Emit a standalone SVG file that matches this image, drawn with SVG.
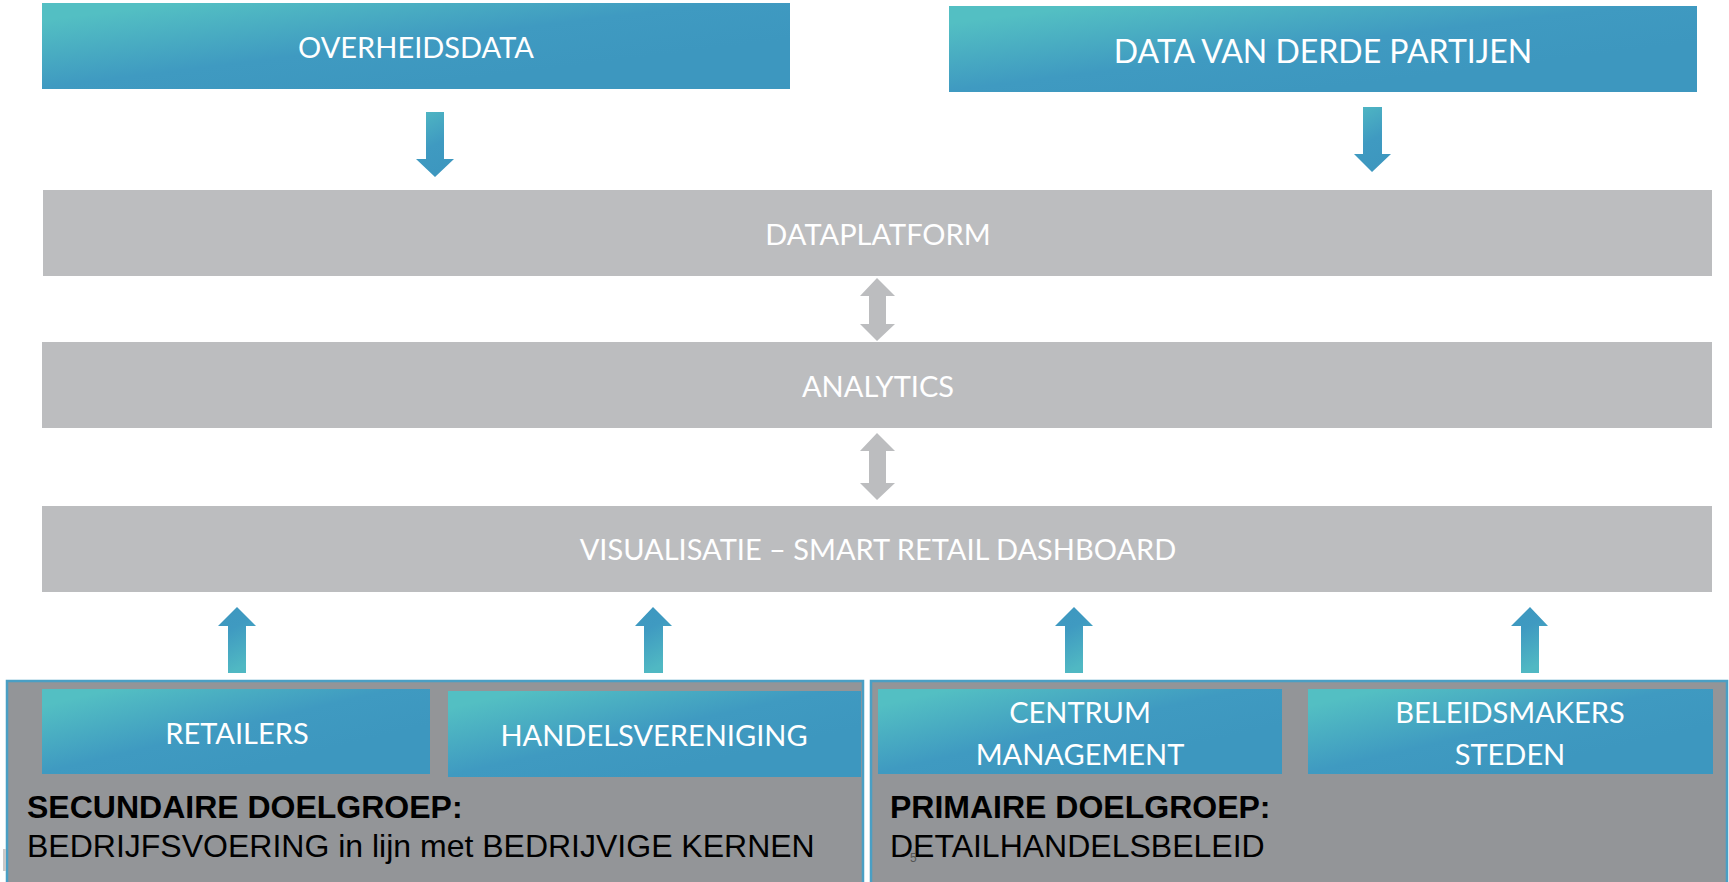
<svg xmlns="http://www.w3.org/2000/svg" width="1729" height="882" viewBox="0 0 1729 882">
  <defs>
    <linearGradient id="boxGrad" x1="0" y1="0.2" x2="0.65" y2="0.8">
      <stop offset="0" stop-color="#53BFC3"/>
      <stop offset="0.6" stop-color="#3F9AC1"/>
      <stop offset="1" stop-color="#3D97BF"/>
    </linearGradient>
    <linearGradient id="downGrad" x1="0" y1="0" x2="0.3" y2="1">
      <stop offset="0" stop-color="#50B8C3"/>
      <stop offset="0.6" stop-color="#3F9AC1"/>
      <stop offset="1" stop-color="#3D97BF"/>
    </linearGradient>
    <linearGradient id="upGrad" x1="0.3" y1="1" x2="0" y2="0">
      <stop offset="0" stop-color="#50B8C3"/>
      <stop offset="0.6" stop-color="#3F9AC1"/>
      <stop offset="1" stop-color="#3D97BF"/>
    </linearGradient>
  </defs>
  <style>
    .blue { fill: url(#boxGrad); }
    .bar { fill: #BCBDBF; }
    .group { fill: #939598; stroke: #4A9FC4; stroke-width: 2.5; }
    .lbl { font-family: Lato, "Open Sans", sans-serif; font-size: 29px; fill: #FFFFFF; text-anchor: middle; }
    .big { font-size: 32px; }
    .head { font-family: "Liberation Sans", Arial, sans-serif; font-size: 32px; font-weight: bold; fill: #000000; }
    .sub { font-family: "Liberation Sans", Arial, sans-serif; font-size: 32px; fill: #000000; }
    .down { fill: url(#downGrad); }
    .up { fill: url(#upGrad); }
    .dbl { fill: #BCBDBF; }
  </style>
  <rect width="1729" height="882" fill="#FFFFFF"/>

  <g id="overheidsdata">
    <rect class="blue" x="42" y="3" width="748" height="86"/>
    <text class="lbl" x="416" y="58" font-size="30">OVERHEIDSDATA</text>
  </g>
  <g id="derde-partijen">
    <rect class="blue" x="949" y="6" width="748" height="86"/>
    <text class="lbl big" x="1323" y="63">DATA VAN DERDE PARTIJEN</text>
  </g>
  <g id="dataplatform">
    <rect class="bar" x="43" y="190" width="1669" height="86"/>
    <text class="lbl" x="878" y="245">DATAPLATFORM</text>
  </g>
  <g id="analytics">
    <rect class="bar" x="42" y="342" width="1670" height="86"/>
    <text class="lbl" x="878" y="397">ANALYTICS</text>
  </g>
  <g id="visualisatie">
    <rect class="bar" x="42" y="506" width="1670" height="86"/>
    <text class="lbl" x="878" y="560">VISUALISATIE – SMART RETAIL DASHBOARD</text>
  </g>

  <g id="secundaire-doelgroep">
    <rect class="group" x="7" y="681" width="856" height="210"/>
    <text class="head" x="27" y="818">SECUNDAIRE DOELGROEP:</text>
    <text class="sub" x="27" y="857">BEDRIJFSVOERING in lijn met BEDRIJVIGE KERNEN</text>
  </g>
  <g id="retailers">
    <rect class="blue" x="42" y="689" width="388" height="85"/>
    <text class="lbl" x="237" y="744">RETAILERS</text>
  </g>
  <g id="handelsvereniging">
    <rect class="blue" x="448" y="691" width="413" height="86"/>
    <text class="lbl" x="654" y="746">HANDELSVERENIGING</text>
  </g>

  <g id="primaire-doelgroep">
    <rect class="group" x="871" y="681" width="856" height="210"/>
    <text class="head" x="890" y="818">PRIMAIRE DOELGROEP:</text>
    <text class="sub" x="890" y="857">DETAILHANDELSBELEID</text>
    <text x="910" y="862" font-family="Liberation Sans, Arial, sans-serif" font-size="12" fill="#555555">5</text>
  </g>
  <g id="centrum-management">
    <rect class="blue" x="878" y="689" width="404" height="85"/>
    <text class="lbl" x="1080" y="723">CENTRUM</text>
    <text class="lbl" x="1080" y="765">MANAGEMENT</text>
  </g>
  <g id="beleidsmakers-steden">
    <rect class="blue" x="1308" y="689" width="405" height="85"/>
    <text class="lbl" x="1510" y="723">BELEIDSMAKERS</text>
    <text class="lbl" x="1510" y="765">STEDEN</text>
  </g>

  <rect x="3" y="849" width="3" height="22" fill="#C8C8C8"/>

  <g id="connectors">
    <polygon class="down" points="426,112 444,112 444,159 454,159 435,177 416,159 426,159"/>
    <polygon class="down" points="1363,107 1382,107 1382,154 1391,154 1372,172 1354,154 1363,154"/>
    <polygon class="dbl" points="877,278 895,296 886,296 886,324 895,324 877,341 860,324 869,324 869,296 860,296"/>
    <polygon class="dbl" points="877,433 895,451 886,451 886,483 895,483 877,500 860,483 869,483 869,451 860,451"/>
    <polygon class="up" points="237,607 256,626 246,626 246,673 228,673 228,626 218,626"/>
    <polygon class="up" points="653,607 672,626 663,626 663,673 644,673 644,626 635,626"/>
    <polygon class="up" points="1074,607 1093,626 1083,626 1083,673 1065,673 1065,626 1055,626"/>
    <polygon class="up" points="1530,607 1548,626 1539,626 1539,673 1521,673 1521,626 1511,626"/>
  </g>
</svg>
